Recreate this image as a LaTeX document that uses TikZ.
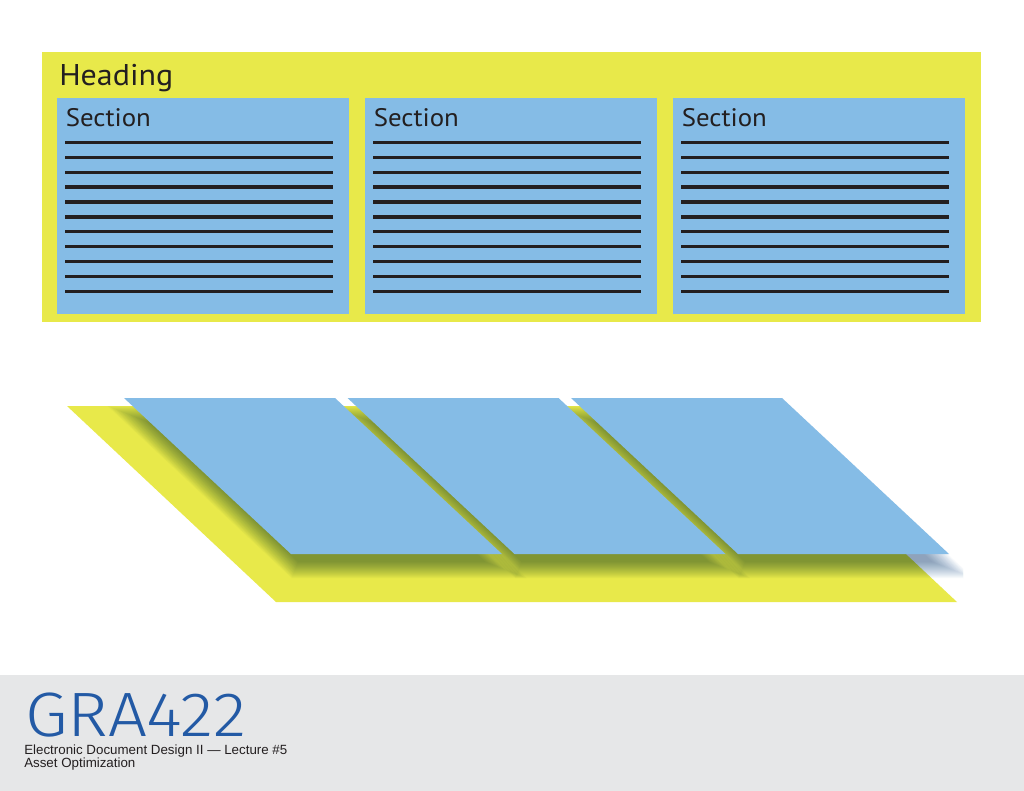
\documentclass[tikz,border=0pt]{standalone}
\usepackage{fontspec}
\setmainfont{PT Sans}
\newfontfamily\headfont[FakeStretch=1.065]{PT Sans}
\newfontfamily\secfont[FakeStretch=1.06]{PT Sans}
\newfontfamily\footfont{Liberation Sans}
\newfontfamily\bigfont[FakeStretch=1.1]{Fira Sans Light}
\definecolor{ylw}{RGB}{232,233,74}
\definecolor{blu}{RGB}{133,188,230}
\definecolor{ink}{RGB}{35,31,32}
\definecolor{band}{RGB}{230,231,232}
\definecolor{gra}{RGB}{35,90,165}
\definecolor{shd}{rgb}{0.9665,0.9776,0.9840}
\tikzset{
  txt/.style={anchor=base west,inner sep=0pt,text=ink},
  rule/.style={ink,line width=2.4pt},
}
\begin{document}
\begin{tikzpicture}[x=0.75pt,y=-0.75pt]
\useasboundingbox (0,0) rectangle (1024,791);
\fill[white] (0,0) rectangle (1024,791);
% top layout
\fill[ylw] (42,52) rectangle (981,322);
\node[txt,font=\headfont\fontsize{22.5}{27}\selectfont] (heading) at (59,86) {Heading};
\foreach \a [count=\i] in {57,365,673}{
  \fill[blu] (\a,98) rectangle ++(292,216);
  \node[txt,font=\secfont\fontsize{19}{23}\selectfont] (sec\i) at (\a+8.5,127) {Section};
  \foreach \k in {0,...,10}
    \draw[rule] (\a+8,142.3+14.93*\k) -- ++(268,0);
}
% perspective layout
\fill[ylw] (67,406) -- (748,406) -- (957,602) -- (276,602) -- cycle;
\begin{scope}[blend mode=multiply]
\clip (0,406) rectangle (963,670);
\foreach \a in {124,347.5,571}{
  \foreach \d in {-8,-7,...,8}{
    \fill[shd] ({\a+4-2.536*\d},{414-\d}) -- ({\a+215+0.395*\d},{414-\d})
      -- ({\a+382+2.536*\d},{570+\d}) -- ({\a+171-0.395*\d},{570+\d}) -- cycle;
  }
}
\end{scope}
\foreach \a in {124,347.5,571}
  \fill[blu] (\a,398) -- (\a+211,398) -- (\a+378,554) -- (\a+167,554) -- cycle;
% footer
\fill[band] (0,675) rectangle (1024,791);
\node[txt,text=gra,text depth=0pt,font=\bigfont\fontsize{47}{50}\selectfont] (gra) at (25,736.7) {GRA422};
\node[txt,text height=7.2pt,font=\footfont\fontsize{10}{12}\selectfont] (sub1) at (24,754.5) {Electronic Document Design II — Lecture \#5};
\node[txt,text height=7.2pt,font=\footfont\fontsize{10}{12}\selectfont] (sub2) at (24,767.5) {Asset Optimization};
\end{tikzpicture}
\end{document}
